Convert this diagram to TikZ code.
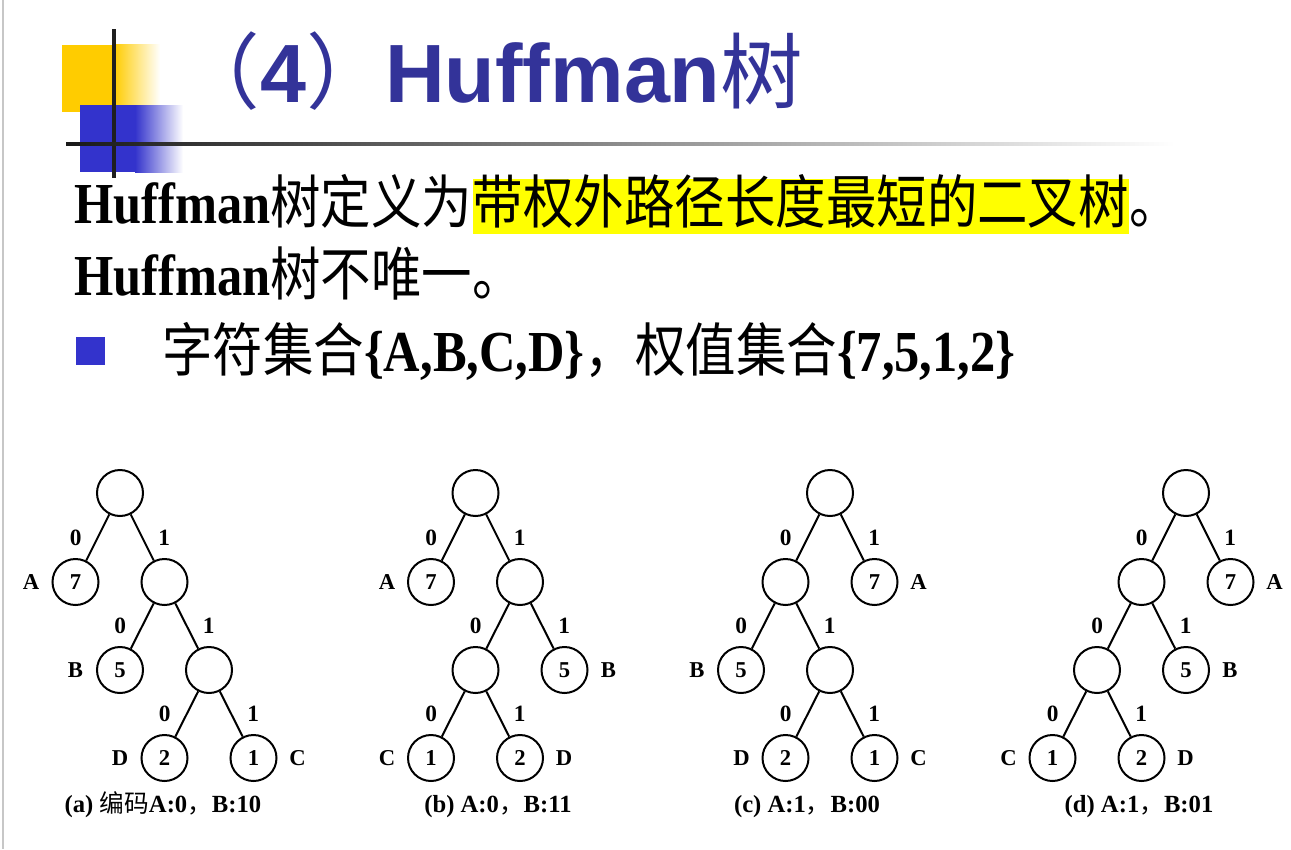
\documentclass[tikz,border=0pt]{standalone}
\usepackage{fontspec}
\usepackage{graphicx}
\setmainfont{Liberation Serif}
\newfontfamily\cjk{Noto Sans CJK SC}
\newfontfamily\sanslat{Liberation Sans}
\newcommand\zh[1]{{\cjk\mdseries #1}}
\newcommand\squeeze[1]{\scalebox{0.87}[1]{#1}}
\definecolor{titleblue}{HTML}{333399}
\definecolor{decoblue}{HTML}{3333CC}
\definecolor{decoyellow}{HTML}{FFCC00}
\definecolor{hlyellow}{HTML}{FFFF00}
\tikzset{
  hnode/.style={circle, draw, line width=1.5pt, minimum size=34.5pt, inner sep=0pt,
    font=\fontsize{17pt}{20pt}\selectfont\bfseries},
  hedge/.style={line width=1.5pt},
  elab/.style={inner sep=0pt, font=\fontsize{17.5pt}{20pt}\selectfont\bfseries},
  llab/.style={inner sep=0pt, font=\fontsize{17pt}{20pt}\selectfont\bfseries},
  capt/.style={inner sep=0pt, anchor=base, font=\fontsize{18.5pt}{22pt}\selectfont\bfseries},
  bodytext/.style={inner sep=0pt, anchor=base west, font=\fontsize{43.5pt}{50pt}\selectfont\bfseries},
  titletext/.style={inner sep=0pt, text=titleblue, font=\sanslat\fontsize{62pt}{72pt}\selectfont\bfseries}
}
\begin{document}
\begin{tikzpicture}[x=0.75pt,y=-0.75pt]
\useasboundingbox (0,0) rectangle (1291,849);
\fill[white] (0,0) rectangle (1291,849);
\fill[black!22] (2,0) rectangle (3.5,849);
% decoration
\fill[decoyellow] (62,45) rectangle (114,112);
\shade[left color=decoyellow, right color=white] (114,45) rectangle (160,112);
\fill[decoblue] (80,105) rectangle (135,172);
\shade[left color=decoblue, right color=white] (135,105) rectangle (183,172);
\fill[black!88] (111.5,29) rectangle (115.5,178);
\shade[left color=black!90, right color=white] (66,142.5) rectangle (1175,145.5);
% title
\node[titletext, anchor=base west] (title) at (385,102) {Huffman{\cjk\mdseries 树}};
\node[titletext, anchor=base east] (num) at ([xshift=3pt]title.base west) {{\cjk\mdseries （}4{\cjk\mdseries ）}};
% body lines
\node[bodytext] (l1a) at (74,223) {\squeeze{Huffman\zh{树定义为}}};
\node[bodytext, fill=hlyellow, text height=33pt, text depth=8.25pt] (l1b) at (l1a.base east) {\squeeze{\zh{带权外路径长度最短的二叉树}}};
\node[bodytext] (l1c) at (l1b.base east) {\squeeze{\zh{。}}};
\node[bodytext] (l2) at (74,295) {\squeeze{Huffman\zh{树不唯一。}}};
\fill[decoblue] (76,337) rectangle (105,365);
\node[bodytext] (l3) at (162,371) {\squeeze{\zh{字符集合}\{A,B,C,D\}\zh{，权值集合}\{7,5,1,2\}}};
% ---------- tree (a)
\node[hnode] (a0) at (120,493) {};
\node[hnode] (aA) at (75.5,582) {7};
\node[hnode] (a1) at (164.5,582) {};
\node[hnode] (aB) at (120,670) {5};
\node[hnode] (a2) at (209,670) {};
\node[hnode] (aD) at (164.5,758) {2};
\node[hnode] (aC) at (253.5,758) {1};
\draw[hedge] (a0) -- (aA) node[midway, xshift=-16.5pt, elab] (ae1) {0};
\draw[hedge] (a0) -- (a1) node[midway, xshift=16.5pt, elab] (ae2) {1};
\draw[hedge] (a1) -- (aB) node[midway, xshift=-16.5pt, elab] (ae3) {0};
\draw[hedge] (a1) -- (a2) node[midway, xshift=16.5pt, elab] (ae4) {1};
\draw[hedge] (a2) -- (aD) node[midway, xshift=-16.5pt, elab] (ae5) {0};
\draw[hedge] (a2) -- (aC) node[midway, xshift=16.5pt, elab] (ae6) {1};
\node[llab] (aLA) at (31,582) {A};
\node[llab] (aLB) at (75.5,670) {B};
\node[llab] (aLD) at (120,758) {D};
\node[llab] (aLC) at (297.5,758) {C};
\node[capt] (acap) at (163,812) {(a) \zh{编码}A:0\zh{，}B:10};
% ---------- tree (b)
\node[hnode] (b0) at (475.5,493) {};
\node[hnode] (bA) at (431,582) {7};
\node[hnode] (b1) at (520,582) {};
\node[hnode] (b2) at (475.5,670) {};
\node[hnode] (bB) at (564.5,670) {5};
\node[hnode] (bC) at (431,758) {1};
\node[hnode] (bD) at (520,758) {2};
\draw[hedge] (b0) -- (bA) node[midway, xshift=-16.5pt, elab] (be1) {0};
\draw[hedge] (b0) -- (b1) node[midway, xshift=16.5pt, elab] (be2) {1};
\draw[hedge] (b1) -- (b2) node[midway, xshift=-16.5pt, elab] (be3) {0};
\draw[hedge] (b1) -- (bB) node[midway, xshift=16.5pt, elab] (be4) {1};
\draw[hedge] (b2) -- (bC) node[midway, xshift=-16.5pt, elab] (be5) {0};
\draw[hedge] (b2) -- (bD) node[midway, xshift=16.5pt, elab] (be6) {1};
\node[llab] (bLA) at (387,582) {A};
\node[llab] (bLB) at (608.5,670) {B};
\node[llab] (bLC) at (387,758) {C};
\node[llab] (bLD) at (564,758) {D};
\node[capt] (bcap) at (498,812) {(b) A:0\zh{，}B:11};
% ---------- tree (c)
\node[hnode] (c0) at (830,493) {};
\node[hnode] (c1) at (785.5,582) {};
\node[hnode] (cA) at (874.5,582) {7};
\node[hnode] (cB) at (741,670) {5};
\node[hnode] (c2) at (830,670) {};
\node[hnode] (cD) at (785.5,758) {2};
\node[hnode] (cC) at (874.5,758) {1};
\draw[hedge] (c0) -- (c1) node[midway, xshift=-16.5pt, elab] (ce1) {0};
\draw[hedge] (c0) -- (cA) node[midway, xshift=16.5pt, elab] (ce2) {1};
\draw[hedge] (c1) -- (cB) node[midway, xshift=-16.5pt, elab] (ce3) {0};
\draw[hedge] (c1) -- (c2) node[midway, xshift=16.5pt, elab] (ce4) {1};
\draw[hedge] (c2) -- (cD) node[midway, xshift=-16.5pt, elab] (ce5) {0};
\draw[hedge] (c2) -- (cC) node[midway, xshift=16.5pt, elab] (ce6) {1};
\node[llab] (cLA) at (918.5,582) {A};
\node[llab] (cLB) at (697,670) {B};
\node[llab] (cLD) at (741.5,758) {D};
\node[llab] (cLC) at (918.5,758) {C};
\node[capt] (ccap) at (807,812) {(c) A:1\zh{，}B:00};
% ---------- tree (d)
\node[hnode] (d0) at (1186,493) {};
\node[hnode] (d1) at (1141.5,582) {};
\node[hnode] (dA) at (1230.5,582) {7};
\node[hnode] (d2) at (1097,670) {};
\node[hnode] (dB) at (1186,670) {5};
\node[hnode] (dC) at (1052.5,758) {1};
\node[hnode] (dD) at (1141.5,758) {2};
\draw[hedge] (d0) -- (d1) node[midway, xshift=-16.5pt, elab] (de1) {0};
\draw[hedge] (d0) -- (dA) node[midway, xshift=16.5pt, elab] (de2) {1};
\draw[hedge] (d1) -- (d2) node[midway, xshift=-16.5pt, elab] (de3) {0};
\draw[hedge] (d1) -- (dB) node[midway, xshift=16.5pt, elab] (de4) {1};
\draw[hedge] (d2) -- (dC) node[midway, xshift=-16.5pt, elab] (de5) {0};
\draw[hedge] (d2) -- (dD) node[midway, xshift=16.5pt, elab] (de6) {1};
\node[llab] (dLA) at (1274.5,582) {A};
\node[llab] (dLB) at (1230,670) {B};
\node[llab] (dLC) at (1008.5,758) {C};
\node[llab] (dLD) at (1185.5,758) {D};
\node[capt] (dcap) at (1139,812) {(d) A:1\zh{，}B:01};
\end{tikzpicture}
\end{document}
